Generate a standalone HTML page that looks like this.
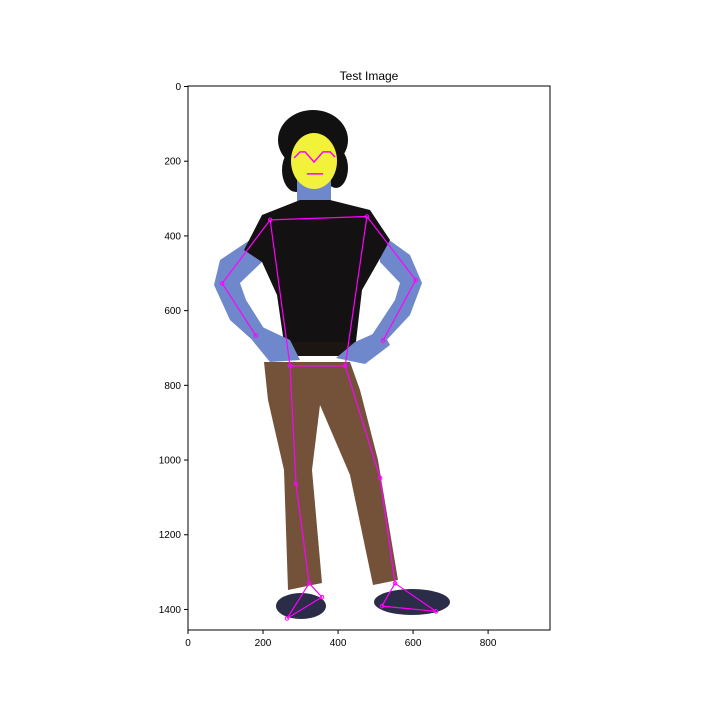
<!DOCTYPE html>
<html><head><meta charset="utf-8"><style>
body{margin:0;background:#fff;width:720px;height:720px;overflow:hidden}
text{font-family:"Liberation Sans",sans-serif}
</style></head><body>
<svg width="720" height="720">
<text x="369" y="80" font-size="12" text-anchor="middle">Test Image</text>
<g>
 <rect x="188" y="86" width="362" height="544" fill="#fff"/>
 <ellipse cx="313" cy="140" rx="35" ry="30" fill="#111"/>
 <ellipse cx="296" cy="170" rx="14" ry="22" fill="#111"/>
 <ellipse cx="336" cy="168" rx="12" ry="20" fill="#111"/>
 <rect x="297" y="175" width="34" height="35" fill="#6f88cc"/>
 <polygon points="262,232 220,260 214,285 230,320 258,345 270,338 246,300 240,283 262,262" fill="#6f88cc"/>
 <polygon points="378,232 410,255 422,283 410,315 382,345 370,338 395,300 400,283 380,262" fill="#6f88cc"/>
 <polygon points="264,362 350,362 360,390 378,460 398,580 373,585 350,475 320,405 312,470 322,583 288,590 284,470 268,400" fill="#74523a"/>
 <polygon points="262,215 300,200 330,200 370,210 390,240 378,262 362,290 355,350 285,350 277,295 262,262 244,250" fill="#131111"/>
 <rect x="282" y="342" width="75" height="14" fill="#1c1612"/>
 <polygon points="258,325 290,340 300,360 270,362 252,340" fill="#6f88cc"/>
 <polygon points="382,330 355,342 336,358 365,364 390,345" fill="#6f88cc"/>
 <ellipse cx="301" cy="606" rx="25" ry="13" fill="#2a2c48"/>
 <ellipse cx="412" cy="602" rx="38" ry="13" fill="#2a2c48"/>
 <ellipse cx="314" cy="161" rx="23" ry="28" fill="#f2f23a"/>
</g>
<g id="pose"></g>
<rect x="188" y="86" width="362" height="544" fill="none" stroke="#000" stroke-width="1"/>
<g id="xt"></g><g id="yt"></g>
</svg>
<script>
const xTicks=[0,200,400,600,800];
const yTicks=[0,200,400,600,800,1000,1200,1400];
const kpX=[219,477,91,607,181,520,272,419,288,512,323,552,264,357,517,661];
const kpY=[357,348,527,518,667,680,748,748,1064,1048,1330,1330,1424,1367,1391,1405];
const edgeA=[0,0,1,2,3,0,1,6,6,7,8,9,10,10,11,11,12,14];
const edgeB=[1,2,3,4,5,6,7,7,8,9,10,11,12,13,14,15,13,15];
const browX=[283,299,312,336,360,379,392];
const browY=[191,175,175,202,175,175,189];
const mouthX=[317,360];
const mouthY=[234,234];
const NS="http://www.w3.org/2000/svg";
const x0=188,y0=86.5,sx=362/965,sy=543.5/1455;
const X=v=>x0+v*sx, Y=v=>y0+v*sy;
const pose=document.getElementById('pose');
for(let i=0;i<edgeA.length;i++){
 const l=document.createElementNS(NS,'line');
 l.setAttribute('x1',X(kpX[edgeA[i]]));l.setAttribute('y1',Y(kpY[edgeA[i]]));
 l.setAttribute('x2',X(kpX[edgeB[i]]));l.setAttribute('y2',Y(kpY[edgeB[i]]));
 l.setAttribute('stroke','#ff00ff');l.setAttribute('stroke-width','1.2');
 
 
 pose.appendChild(l);
}
for(let i=0;i<kpX.length;i++){
 const c=document.createElementNS(NS,'circle');
 c.setAttribute('cx',X(kpX[i]));c.setAttribute('cy',Y(kpY[i]));c.setAttribute('r',1.8);
 c.setAttribute('fill','none');c.setAttribute('stroke','#ff00ff');
 
 
 pose.appendChild(c);
}
const mouth=document.createElementNS(NS,'polyline');
mouth.setAttribute('points',mouthX.map((v,i)=>X(v)+','+Y(mouthY[i])).join(' '));
mouth.setAttribute('fill','none');mouth.setAttribute('stroke','#ff00ff');mouth.setAttribute('stroke-width','1.5');


pose.appendChild(mouth);
const brow=document.createElementNS(NS,'polyline');
brow.setAttribute('points',browX.map((v,i)=>X(v)+','+Y(browY[i])).join(' '));
brow.setAttribute('fill','none');brow.setAttribute('stroke','#ff00ff');brow.setAttribute('stroke-width','1.5');


pose.appendChild(brow);
const xt=document.getElementById('xt');
xTicks.forEach(v=>{
 const l=document.createElementNS(NS,'line');
 l.setAttribute('x1',X(v));l.setAttribute('x2',X(v));l.setAttribute('y1',630);l.setAttribute('y2',634);l.setAttribute('stroke','#000');
 
 
 xt.appendChild(l);
 const t=document.createElementNS(NS,'text');
 t.setAttribute('x',X(v));t.setAttribute('y',646);t.setAttribute('font-size','10');t.setAttribute('text-anchor','middle');t.textContent=v;
 
 
 xt.appendChild(t);
});
const yt=document.getElementById('yt');
yTicks.forEach(v=>{
 const l=document.createElementNS(NS,'line');
 l.setAttribute('x1',184);l.setAttribute('x2',188);l.setAttribute('y1',Y(v));l.setAttribute('y2',Y(v));l.setAttribute('stroke','#000');
 
 
 yt.appendChild(l);
 const t=document.createElementNS(NS,'text');
 t.setAttribute('x',181);t.setAttribute('y',Y(v)+3.5);t.setAttribute('font-size','10');t.setAttribute('text-anchor','end');t.textContent=v;
 
 
 yt.appendChild(t);
});
</script>
</body></html>
